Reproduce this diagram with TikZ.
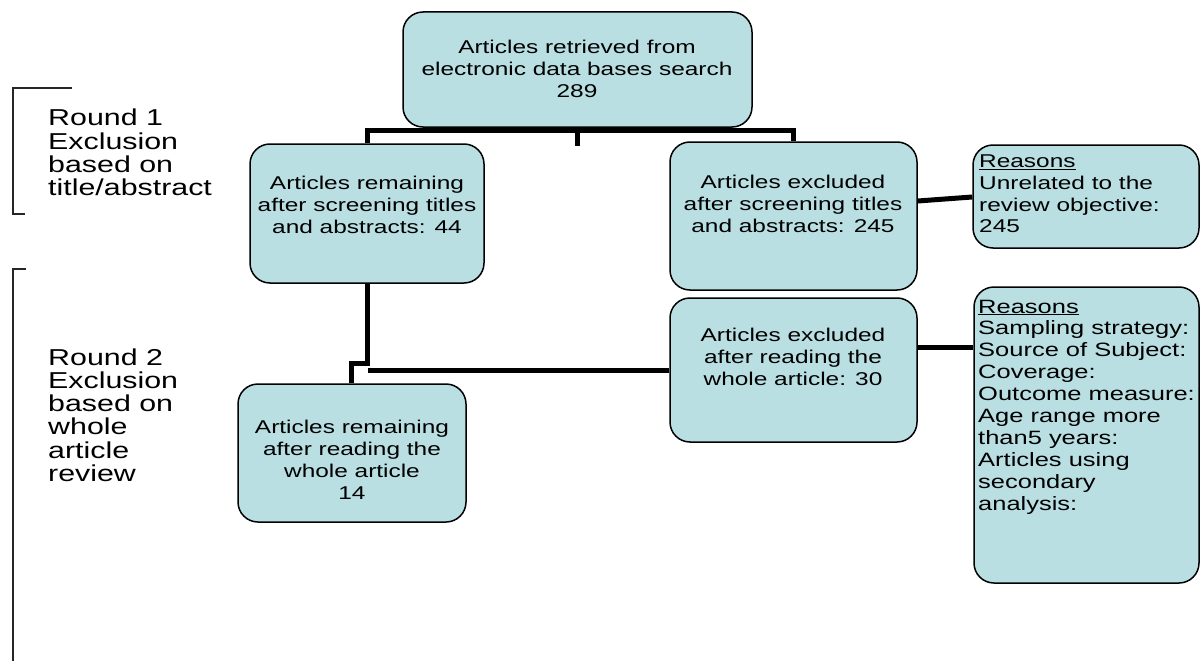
\documentclass[tikz,border=0pt]{standalone}
\usepackage{fontspec}
\setmainfont{Liberation Sans}[FakeStretch=1.32]
\definecolor{boxfill}{RGB}{185,223,227}
\begin{document}
\begin{tikzpicture}[x=1pt,y=-1pt,
  box/.style={draw=black,line width=1.5pt,fill=boxfill,rounded corners=20pt,inner sep=0pt},
  txt/.style={inner sep=0pt,align=center,font=\fontsize{18.5}{22}\selectfont},
  rtxt/.style={inner sep=0pt,align=left,anchor=west,font=\fontsize{18.5}{21.7}\selectfont},
  rtxtb/.style={inner sep=0pt,align=left,anchor=west,font=\fontsize{19.3}{21.9}\selectfont},
  side/.style={inner sep=0pt,align=left,anchor=west,font=\fontsize{23}{23.2}\selectfont},
  conn/.style={line width=5pt,black},
  brk/.style={line width=1.3pt,black!85}]
\useasboundingbox (0,0) rectangle (1200,661);
% boxes
\node[box,minimum width=349pt,minimum height=115pt] (top) at (577.5,69.5) {};
\node[box,minimum width=234pt,minimum height=139pt] (a44) at (367,213.5) {};
\node[box,minimum width=247pt,minimum height=148pt] (e245) at (793.5,216) {};
\node[box,minimum width=226pt,minimum height=103pt] (r1) at (1086,196.5) {};
\node[box,minimum width=247pt,minimum height=144pt] (e30) at (793.5,370) {};
\node[box,minimum width=225pt,minimum height=296pt] (r2) at (1086.5,435) {};
\node[box,minimum width=228pt,minimum height=138pt] (a14) at (352,453) {};
% texts
\node[txt] (ttop) at (577,69) {Articles retrieved from\\electronic data bases search\\289};
\node[txt] (ta44) at (367,205) {Articles remaining\\after screening titles\\and abstracts: 44};
\node[txt] (te245) at (793,204) {Articles excluded\\after screening titles\\and abstracts: 245};
\node[txt] (ta14) at (352,460) {Articles remaining\\after reading the\\whole article\\14};
\node[txt] (te30) at (793,357) {Articles excluded\\after reading the\\whole article: 30};
\node[rtxt] (tr1) at (979,194) {\underline{Reasons}\\Unrelated to the\\review objective:\\245};
\node[rtxtb] (tr2) at (978,407) {\underline{Reasons}\\Sampling strategy:\\Source of Subject:\\Coverage:\\Outcome measure:\\Age range more\\than5 years:\\Articles using\\secondary\\analysis:};
\node[side] (s1) at (48,152.5) {Round 1\\Exclusion\\based on\\title/abstract};
\node[side] (s2) at (48,415) {Round 2\\Exclusion\\based on\\whole\\article\\review};
% connectors
\coordinate (barl) at (a44.north |- 0,130);
\coordinate (barr) at (e245.north |- 0,130);
\draw[conn] (top.south) -- ++(0,18);
\draw[conn] (a44.north) -- (barl) -- (barr) -- (e245.north);
\draw[conn] (a44.south) -- (367,363) -- (351,363) -- (a14.north -| 351,0);
\coordinate (hl) at (368,370);
\draw[conn] (hl) -- (e30.west);
\draw[conn] (e30.east |- 0,347) -- (r2.west |- 0,347);
\draw[conn] (e245.east |- 0,201) -- (r1.west |- 0,197);
% brackets
\coordinate (b1a) at (72,88);
\coordinate (b1b) at (25,214);
\draw[brk] (b1a) -- (13,88) -- (13,214) -- (b1b);
\coordinate (b2a) at (26,269);
\coordinate (b2b) at (13,661);
\draw[brk] (b2a) -- (13,269) -- (b2b);
\end{tikzpicture}
\end{document}
